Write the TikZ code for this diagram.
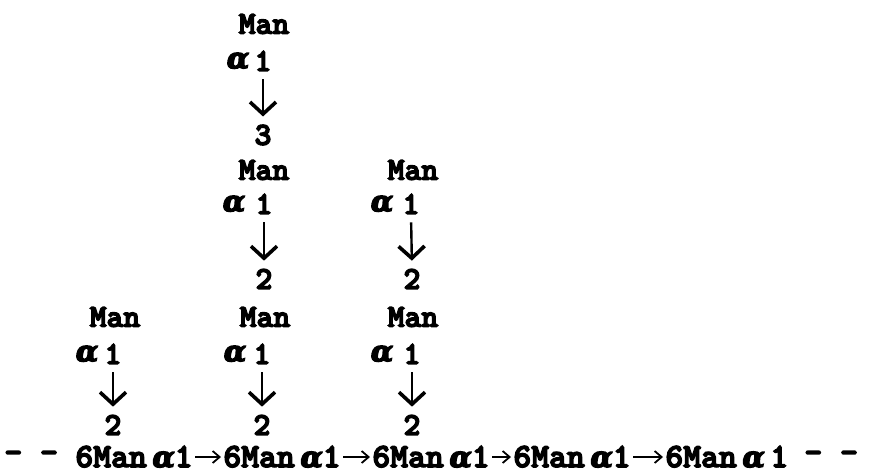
\documentclass[tikz,border=0pt]{standalone}
\usepackage{fontspec}
\usetikzlibrary{arrows.meta}
\newfontfamily\twr{lmmonolt10-bold.otf}
\newfontfamily\grk{DejaVu Serif}
\newcommand\alp{{\grk\bfseries\itshape\fontsize{14.5}{16}\selectfont α}}
\newcommand\heavyon{\special{pdf:literal direct 2 Tr 0.7 w}}
\newcommand\heavyoff{\special{pdf:literal direct 0 Tr}}
\begin{document}
\begin{tikzpicture}[x=0.5pt,y=-0.5pt,
  lbl/.style={inner sep=0pt,font=\fontsize{16}{18}\selectfont\twr,
    execute at begin node=\heavyon, execute at end node=\heavyoff},
  chain/.style={inner sep=0pt,anchor=west,font=\fontsize{17}{19}\selectfont\twr,
    execute at begin node=\heavyon, execute at end node=\heavyoff},
  vert/.style={line width=1.2pt,-{Straight Barb[length=6pt,width=13pt,line width=1.8pt]},shorten <=4pt,shorten >=4pt},
  horiz/.style={line width=0.9pt,-{Straight Barb[length=3.5pt,width=6pt]},shorten <=1pt,shorten >=1pt}]
\useasboundingbox (0,0) rectangle (872,473);
% top column
\node[lbl] (m0) at (264,24) {Man};
\node[lbl] (al0) at (238,61) {\alp};
\node[lbl] (o0) at (263,61) {1};
\node[lbl] (n0) at (263,135) {3};
\draw[vert] (o0.south) -- (n0.north);
% middle row
\node[lbl] (m1) at (264,170) {Man};
\node[lbl] (al1) at (234,204) {\alp};
\node[lbl] (o1) at (264,204) {1};
\node[lbl] (t1) at (264,279) {2};
\draw[vert] (o1.south) -- (t1.north);
\node[lbl] (m2) at (413,170) {Man};
\node[lbl] (al2) at (382,204) {\alp};
\node[lbl] (o2) at (411,204) {1};
\node[lbl] (t2) at (412,279) {2};
\draw[vert] (o2.south) -- (t2.north);
% bottom row
\node[lbl] (m3) at (115,317) {Man};
\node[lbl] (al3) at (87,354) {\alp};
\node[lbl] (o3) at (113,354) {1};
\node[lbl] (t3) at (113,425) {2};
\draw[vert] (o3.south) -- (t3.north);
\node[lbl] (m4) at (265,317) {Man};
\node[lbl] (al4) at (235,354) {\alp};
\node[lbl] (o4) at (262,354) {1};
\node[lbl] (t4) at (262,425) {2};
\draw[vert] (o4.south) -- (t4.north);
\node[lbl] (m5) at (413,317) {Man};
\node[lbl] (al5) at (382,354) {\alp};
\node[lbl] (o5) at (412,354) {1};
\node[lbl] (t5) at (412,425) {2};
\draw[vert] (o5.south) -- (t5.north);
% chain
\node[chain] (dl) at (4,457) {- -};
\node[chain] (c1) at (75,457) {6Man\,\alp1};
\node[chain] (c2) at (223,457) {6Man\,\alp1};
\node[chain] (c3) at (372,457) {6Man\,\alp1};
\node[chain] (c4) at (513,457) {6Man\,\alp1};
\node[chain] (c5) at (665,457) {6Man\,\alp\,1};
\node[chain] (dr) at (804,457) {- -};
\draw[horiz] (c1.east) -- (c2.west);
\draw[horiz] (c2.east) -- (c3.west);
\draw[horiz] (c3.east) -- (c4.west);
\draw[horiz] (c4.east) -- (c5.west);
\end{tikzpicture}
\end{document}
